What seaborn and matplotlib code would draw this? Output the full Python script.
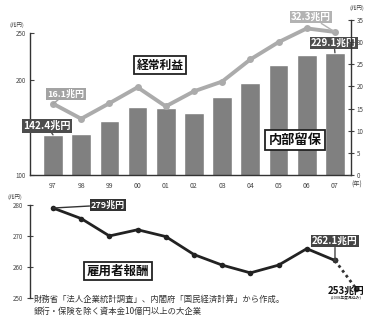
import numpy as np
import pandas as pd
import matplotlib
matplotlib.use("Agg")
import matplotlib.pyplot as plt
import seaborn as sns

sns.set_theme(style="white")
plt.rcParams['font.family'] = ['Noto Sans CJK JP', 'DejaVu Sans']

# ---- data ----
years = ["97", "98", "99", "00", "01", "02", "03", "04", "05", "06", "07"]
retained = [142.4, 143.0, 157.0, 171.5, 170.5, 166.0, 182.0, 197.0, 216.0, 227.0, 229.1]   # 内部留保 (兆円, left axis)
profit = [16.1, 12.7, 16.2, 19.8, 15.5, 18.9, 21.1, 26.1, 30.0, 33.1, 32.3]               # 経常利益 (兆円, right axis)
compensation = [279.0, 275.6, 270.0, 272.0, 269.8, 264.0, 260.6, 258.1, 260.6, 265.9, 262.1]  # 雇用者報酬
forecast_pos = 10.75          # 2008年度見込み
forecast_val = 253.0
left_ticks = [100, 150, 200, 250]
left_tick_labels = ["100", "", "200", "250"]   # 150 is hidden behind the 142.4 label
right_ticks = [0, 5, 10, 15, 20, 25, 30, 35]
bottom_ticks = [250, 260, 270, 280]

W, H = 366, 324
fig = plt.figure(figsize=(W / 100, H / 100), dpi=100)
fig.patch.set_facecolor("white")

def fp(x, y):
    return (x / W, 1 - y / H)

tick_color = "#444444"
pos = np.arange(len(years))

# ---- top panel ----
ax = fig.add_axes([30 / W, 1 - 175 / H, 321 / W, 155 / H])
df = pd.DataFrame({"year": years, "retained": retained})
sns.barplot(data=df, x="year", y="retained", ax=ax, color="#808080",
            saturation=1, width=0.7, zorder=2)
ax.set_xlim(-0.816, 10.57)
ax.set_ylim(100, 263.7)
ax.set_yticks(left_ticks)
ax.set_yticklabels(left_tick_labels)
ax.set_xlabel("")
ax.set_ylabel("")
ax.tick_params(axis="x", length=0, pad=5, labelsize=5, colors=tick_color)
ax.tick_params(axis="y", direction="in", length=3, width=0.8, pad=3, labelsize=4.5,
               colors=tick_color, left=True)
for s in ["top", "right"]:
    ax.spines[s].set_visible(False)
ax.spines["left"].set_bounds(100, 250)
for s in ["left", "bottom"]:
    ax.spines[s].set_color("#333333")
    ax.spines[s].set_linewidth(1.0)

ax2 = ax.twinx()
sns.lineplot(x=pos, y=profit, ax=ax2, color="#ababab", lw=2.8, marker="o",
             markersize=5, markeredgewidth=0, zorder=3)
ax2.set_ylim(0, 35)
ax2.set_yticks(right_ticks)
ax2.set_yticklabels([str(t) for t in right_ticks])
ax2.set_ylabel("")
ax2.tick_params(axis="y", direction="inout", length=4, width=0.8, pad=2, labelsize=4.5,
                colors=tick_color, right=True)
for s in ["top", "left", "bottom"]:
    ax2.spines[s].set_visible(False)
ax2.spines["right"].set_color("#333333")
ax2.spines["right"].set_linewidth(1.0)

fig.text(*fp(10, 25), "(兆円)", fontsize=4, color=tick_color, va="center")
fig.text(*fp(349, 8), "(兆円)", fontsize=4, color=tick_color, va="center")
fig.text(*fp(351, 185), "(年)", fontsize=4.5, color=tick_color, va="center")

def box_label(axis, xy, text_xy, text, fc, tc="white", fs=7, ec=None, lw=0.0, weight="bold",
              line=True):
    kw = {}
    if line:
        kw["arrowprops"] = dict(arrowstyle="-", color=fc if ec is None else ec, lw=1.0,
                                shrinkA=0, shrinkB=0)
    axis.annotate(text, xy=xy, xycoords="data", xytext=fp(*text_xy),
                  textcoords="figure fraction", ha="center", va="center",
                  fontsize=fs, color=tc, fontweight=weight, zorder=10,
                  bbox=dict(boxstyle="square,pad=0.15", fc=fc,
                            ec=fc if ec is None else ec, lw=lw),
                  annotation_clip=False, **kw)

box_label(ax2, (0, profit[0]), (66, 94), "16.1兆円", "#a3a3a3", fs=6.5)
box_label(ax, (0, retained[0]), (47, 126), "142.4兆円", "#4d4d4d", fs=7.3)
box_label(ax2, (10, profit[-1]), (311, 17), "32.3兆円", "#b3b3b3", fs=7)
box_label(ax, (10, retained[-1]), (334, 43), "229.1兆円", "#4d4d4d", fs=7)

for (x, y, t, fs) in [(160, 65, "経常利益", 8.5), (295, 140, "内部留保", 9.5)]:
    fig.text(*fp(x, y), t, fontsize=fs, fontweight="bold", color="#111111",
             ha="center", va="center", zorder=10,
             bbox=dict(boxstyle="square,pad=0.25", fc="white", ec="#222222", lw=1.3))

# ---- bottom panel ----
bx = fig.add_axes([30 / W, 1 - 298 / H, 336 / W, 103 / H])
sns.lineplot(x=pos, y=compensation, ax=bx, color="#222222", lw=2.0, marker="o",
             markersize=4, markeredgewidth=0, zorder=3)
sns.lineplot(x=[pos[-1], forecast_pos], y=[compensation[-1], forecast_val], ax=bx,
             color="#333333", lw=2.0, linestyle=(0, (1, 1.2)), marker="o",
             markersize=4, markeredgewidth=0, zorder=3)
bx.set_xlim(-0.816, 11.1)
bx.set_ylim(250, 283.2)
bx.set_yticks(bottom_ticks)
bx.set_yticklabels([str(t) for t in bottom_ticks])
bx.set_xticks([])
bx.set_xlabel("")
bx.set_ylabel("")
bx.tick_params(axis="y", direction="inout", length=4, width=0.8, pad=3, labelsize=4.5,
               colors=tick_color, left=True)
for s in ["top", "right", "bottom"]:
    bx.spines[s].set_visible(False)
bx.spines["left"].set_bounds(250, 280)
bx.spines["left"].set_color("#333333")
bx.spines["left"].set_linewidth(1.0)
bx.patch.set_alpha(0)

fig.text(*fp(8, 197), "(兆円)", fontsize=4, color=tick_color, va="center")

box_label(bx, (0, compensation[0]), (108, 205), "279兆円", "#333333", fs=6.5)
box_label(bx, (10, compensation[-1]), (335, 241), "262.1兆円", "#444444", fs=7)

fig.text(*fp(118, 271), "雇用者報酬", fontsize=9, fontweight="bold", color="#111111",
         ha="center", va="center", zorder=10,
         bbox=dict(boxstyle="square,pad=0.2", fc="white", ec="#222222", lw=1.3))

fig.text(*fp(346, 291), "253兆円", fontsize=7, fontweight="bold", color="#111111",
         ha="center", va="center")
fig.text(*fp(346, 298), "(2008年度見込み)", fontsize=2.8, color="#222222",
         ha="center", va="center")

fig.text(*fp(34, 299), "財務省「法人企業統計調査」、内閣府「国民経済計算」から作成。",
         fontsize=6, color="#333333", va="center")
fig.text(*fp(34, 311), "銀行・保険を除く資本金10億円以上の大企業",
         fontsize=6, color="#333333", va="center")

fig.savefig("out.png", dpi=100, facecolor="white")
